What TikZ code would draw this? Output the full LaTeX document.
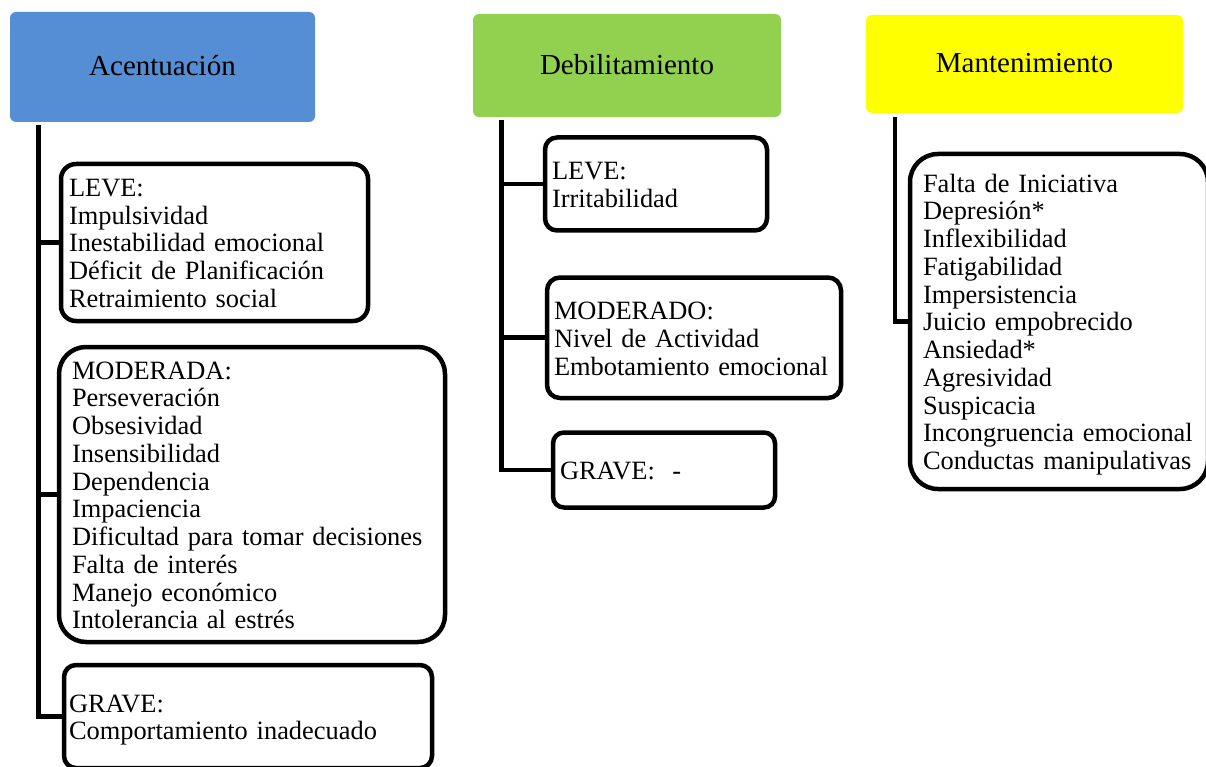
\documentclass[tikz,border=0pt]{standalone}
\usepackage{fontspec}
\setmainfont{Liberation Serif}
\definecolor{hdrblue}{HTML}{558ED5}
\definecolor{hdrgreen}{HTML}{92D050}
\definecolor{hdryellow}{HTML}{FFFF00}
\begin{document}
\begin{tikzpicture}[x=1pt,y=-1pt,
  header/.style={anchor=north west, inner sep=0pt, outer sep=0pt,
    font=\fontsize{29}{32}\selectfont, text height=24pt, text depth=6pt},
  itembox/.style={draw=black, line width=4.5pt, fill=white, anchor=north west,
    inner ysep=0pt, outer sep=0pt, align=left,
    font=\fontsize{26.4}{27.75}\selectfont,
    execute at begin node={\rule{0pt}{25pt}},
    execute at end node={\rule[-6pt]{0pt}{6pt}}},
  link/.style={line width=4.6pt}
]
\useasboundingbox (0,0) rectangle (1206,767);
\clip (0,0) rectangle (1206,767);
\fill[white] (0,0) rectangle (1206,767);

% column headers
\node[header, fill=hdrblue, rounded corners=6pt, minimum width=305pt, minimum height=110pt]
  (h1) at (10,12) {Acentuación};
\node[header, fill=hdrgreen, rounded corners=6pt, minimum width=308pt, minimum height=103pt]
  (h2) at (473,14) {Debilitamiento};
\node[header, fill=hdryellow, rounded corners=6pt, minimum width=317pt, minimum height=98pt]
  (h3) at (866,15) {Mantenimiento};

% Acentuación
\node[itembox, rounded corners=15pt, inner xsep=8pt, text width=291pt, minimum height=157pt]
  (l1) at (61,164) {LEVE:\\Impulsividad\\Inestabilidad emocional\\Déficit de Planificación\\Retraimiento social};
\node[itembox, rounded corners=27pt, inner xsep=13pt, text width=360pt, minimum height=295pt]
  (m1) at (59,347) {MODERADA:\\Perseveración\\Obsesividad\\Insensibilidad\\Dependencia\\Impaciencia\\Dificultad para tomar decisiones\\Falta de interés\\Manejo económico\\Intolerancia al estrés};
\node[itembox, rounded corners=12pt, inner xsep=5pt, text width=358pt, minimum height=103pt]
  (g1) at (64,665) {GRAVE:\\Comportamiento inadecuado};

% Debilitamiento
\node[itembox, rounded corners=12pt, inner xsep=7pt, text width=208pt, minimum height=93pt]
  (l2) at (545,137.5) {LEVE:\\Irritabilidad};
\node[itembox, rounded corners=13pt, inner xsep=7pt, text width=280pt, minimum height=120.5pt]
  (m2) at (547,277.5) {MODERADO:\\Nivel de Actividad\\Embotamiento emocional};
\node[itembox, rounded corners=11pt, inner xsep=7pt, text width=208pt, minimum height=75pt]
  (g2) at (553,432.5) {GRAVE:\ \ -};

% Mantenimiento
\node[itembox, rounded corners=28pt, inner xsep=13pt, text width=272pt, minimum height=335pt]
  (k3) at (910,154) {Falta de Iniciativa\\Depresión*\\Inflexibilidad\\Fatigabilidad\\Impersistencia\\Juicio empobrecido\\Ansiedad*\\Agresividad\\Suspicacia\\Incongruencia emocional\\Conductas manipulativas};

% trunk tops just below each header
\coordinate (t1) at (38.5,125);
\coordinate (t2) at (501.5,120);
\coordinate (t3) at (895,117);

% connectors
\draw[link] (t1) |- (l1.west);
\draw[link] (t1) |- (m1.west);
\draw[link] (t1) |- (g1.west);
\draw[link] (t2) |- (l2.west);
\draw[link] (t2) |- (m2.west);
\draw[link] (t2) |- (g2.west);
\draw[link] (t3) |- (k3.west);
\end{tikzpicture}
\end{document}
